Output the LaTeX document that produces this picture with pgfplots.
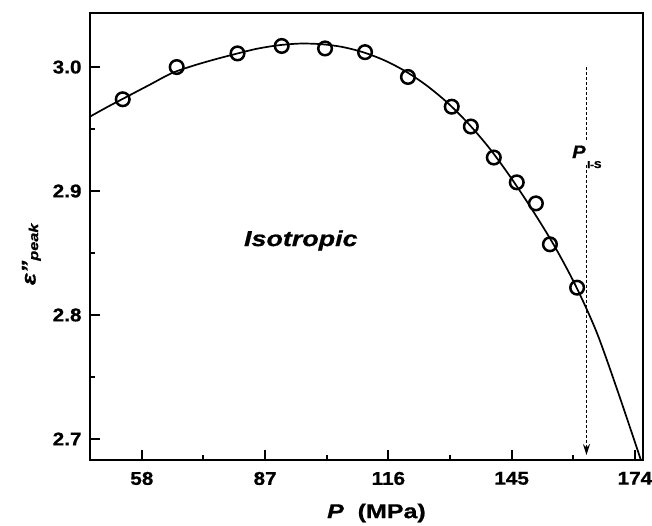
\documentclass[border=0pt]{standalone}
\usepackage{fontspec}
\setmainfont[FakeStretch=1.12, FakeBold=0.8]{Liberation Sans}
\newfontfamily\widefont[FakeStretch=1.25, FakeBold=0.8]{Liberation Sans}
\usepackage{pgfplots}
\pgfplotsset{compat=1.18}
\usetikzlibrary{arrows.meta}

\begin{document}
\begin{tikzpicture}
\begin{axis}[
  at={(0,0)}, anchor=south west,
  scale only axis, width=553pt, height=447pt,
  xmin=45.8, xmax=175.9, ymin=2.683, ymax=3.0436,
  xtick={58,87,116,145,174}, ytick={2.7,2.8,2.9,3.0},
  minor x tick num=1, minor y tick num=1,
  xtick pos=bottom, ytick pos=left, tick align=inside,
  major tick length=10pt, minor tick length=5pt,
  every tick/.style={black, line width=2pt},
  axis line style={line width=2.8pt},
  /pgf/number format/assume math mode=true,
  tick label style={font=\fontsize{18.5}{20}\selectfont\bfseries, inner sep=0pt},
  x tick label style={yshift=-11.7pt},
  y tick label style={xshift=-8.3pt, /pgf/number format/fixed, /pgf/number format/fixed zerofill, /pgf/number format/precision=1},
  xlabel={\widefont\fontsize{20}{22}\selectfont\bfseries{\itshape P}\ \ (MPa)},
  xlabel style={at={(axis description cs:0.518,-0.130)}, anchor=base, inner sep=0pt},
  ylabel={\widefont\fontsize{20}{22}\selectfont\bfseries\itshape ε”\raisebox{-2.5pt}{\fontsize{13}{14}\selectfont peak}},
  ylabel style={at={(axis description cs:-0.0886,0.46)}, anchor=south, inner sep=0pt},
]
% fitted curve
\addplot[line width=1.7pt, smooth, black] coordinates {
(45.8,2.960)(50,2.968)(55,2.977)(60,2.986)(65,2.995)(70,3.001)(75,3.006)
(80,3.0105)(85,3.0147)(90,3.0175)(95,3.0189)(100,3.0185)(105,3.0163)
(110,3.0120)(115,3.0055)(120,2.9966)(125,2.9851)(130,2.9709)(135,2.9537)
(140,2.9335)(145,2.9099)(150,2.884)(155,2.856)(160,2.824)(165,2.786)
(170,2.738)(175.5,2.682)};
% measured points
\addplot[only marks, mark=o, mark size=6.8pt, mark options={line width=2.5pt, black}] coordinates {
(53.5,2.974)(66.2,3.000)(80.5,3.011)(90.9,3.017)(101.1,3.015)(110.5,3.012)
(120.6,2.992)(130.9,2.968)(135.4,2.952)(140.8,2.927)(146.2,2.907)(150.7,2.890)
(154.0,2.857)(160.4,2.822)};
% transition pressure marker
\addplot[black, line width=1.5pt, dash pattern=on 3pt off 2pt] coordinates {(162.6,3.000)(162.6,2.941)};
\addplot[black, line width=1.5pt, dash pattern=on 3pt off 2pt, -{Stealth[length=11pt,width=7pt]}] coordinates {(162.6,2.921)(162.6,2.687)};
\node[anchor=base west, inner sep=0pt] at (axis cs:159.2,2.9266)
  {\fontsize{18}{20}\selectfont\bfseries\itshape P\hspace{1.5pt}\raisebox{-10pt}{\upshape\fontsize{10}{11}\selectfont I-S}};
\node[anchor=base west, inner sep=0pt] at (axis cs:82.0,2.8556)
  {\widefont\fontsize{21.5}{23}\selectfont\bfseries\itshape Isotropic};
\end{axis}
\pgfresetboundingbox
\path[use as bounding box] (-90pt,-65pt) rectangle (562pt,460pt);
\end{tikzpicture}
\end{document}
